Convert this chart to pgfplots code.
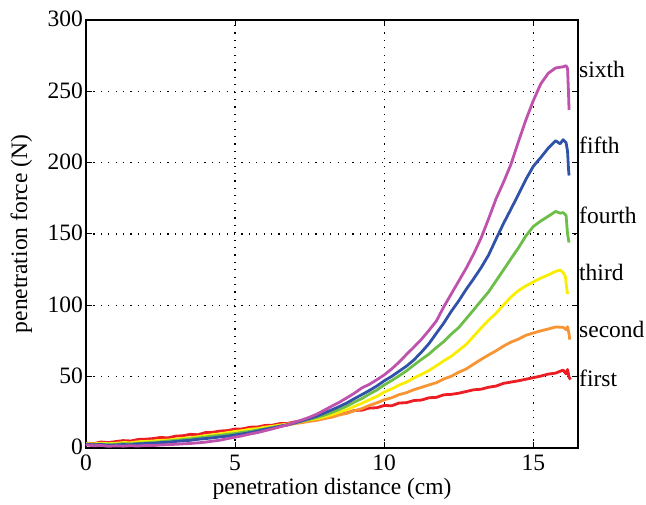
\documentclass[border=0pt]{standalone}
\usepackage{fontspec}
\setmainfont{Liberation Serif}
\usepackage{pgfplots}
\pgfplotsset{compat=1.18}

\definecolor{cfirst}{RGB}{236,30,36}
\definecolor{csecond}{RGB}{247,148,52}
\definecolor{cthird}{RGB}{250,238,0}
\definecolor{cfourth}{RGB}{108,190,72}
\definecolor{cfifth}{RGB}{48,82,168}
\definecolor{csixth}{RGB}{190,82,172}

\begin{document}
\begin{tikzpicture}[font=\fontsize{23.5}{28}\selectfont]
\path[use as bounding box] (-86pt,-56pt) rectangle (560pt,448pt);
\begin{axis}[
    at={(0,0)}, anchor=south west,
    scale only axis,
    width=492pt, height=428pt,
    xmin=0, xmax=16.5,
    ymin=0, ymax=300,
    xtick={0,5,10,15},
    ytick={0,50,...,300},
    tick align=inside,
    tick pos=both,
    major tick length=6pt,
    axis line style={line width=1.2pt},
    every tick/.style={black, line width=1pt},
    grid=major,
    major grid style={black, line width=1.2pt, dash pattern=on 1.2pt off 6.2pt},
    /pgf/number format/assume math mode=true,
    xlabel={penetration distance (cm)},
    ylabel={penetration force (N)},
    xlabel style={inner sep=0pt, yshift=-5pt},
    ylabel style={yshift=9pt},
    xticklabel style={inner sep=2pt, yshift=-5pt},
    yticklabel style={inner sep=3pt, yshift=1pt},
    clip=false,
    every axis plot/.append style={line width=2.8pt, line join=round},
]
% first
\addplot[cfirst] coordinates {
(0,3.5) (0.25,3) (0.5,4.2) (0.75,3.8) (1,4.5) (1.25,5.2) (1.5,4.9) (1.75,6) (2,6.2) (2.25,6.6) (2.5,7.4) (2.75,7.1)
(3,8.3) (3.25,8.6) (3.5,9.6) (3.75,9.3) (4,10.8) (4.25,11) (4.5,11.9) (4.75,12.2) (5,13.3) (5.25,13.4) (5.5,14.6) (5.75,14.7)
(6,15.8) (6.25,16) (6.5,17.1) (6.75,17.2) (7,18.3) (7.25,18.9) (7.5,19.6) (7.75,20.6) (8,21.8) (8.25,22.4) (8.5,24.1) (8.75,24.6)
(9,26.3) (9.25,26.5) (9.5,28) (9.75,28.2) (10,29.8) (10.25,29.6) (10.5,31.5) (10.75,31.8) (11,33.3) (11.25,33.6) (11.5,35.2) (11.75,35.5)
(12,37.3) (12.25,37.6) (12.5,38.4) (12.75,39.6) (13,40.8) (13.25,41.2) (13.5,42.6) (13.75,43.4) (14,45.3) (14.25,46.2) (14.5,47.1) (14.75,48.2)
(15,49.3) (15.25,50.4) (15.5,51.8) (15.75,52.5) (16,54.6) (16.1,52) (16.15,55) (16.2,49.5) (16.25,48)
};
% second
\addplot[csecond] coordinates {
(0,2.8) (0.25,2.4) (0.5,3) (0.75,2.6) (1,3.1) (1.25,3.4) (1.5,3.2) (1.75,4) (2,4.2) (2.25,4.1) (2.5,4.8) (2.75,5)
(3,5.6) (3.25,5.9) (3.5,6.6) (3.75,7) (4,8.1) (4.25,8.4) (4.5,9.4) (4.75,9.7) (5,10.6) (5.25,11.4) (5.5,12) (5.75,12.8)
(6,13.6) (6.25,14.3) (6.5,15.4) (6.75,16) (7,17.1) (7.25,17.8) (7.5,18.7) (7.75,19.4) (8,20.6) (8.25,21.6) (8.5,23.2) (8.75,24.3)
(9,26.1) (9.25,27.6) (9.5,29.8) (9.75,31.6) (10,33.8) (10.25,35.2) (10.5,37.4) (10.75,38.8) (11,40.9) (11.25,42.5) (11.5,44.2) (11.75,45.8)
(12,48.4) (12.25,50.3) (12.5,53.1) (12.75,55.4) (13,58.8) (13.25,62.1) (13.5,65.2) (13.75,68.1) (14,71.4) (14.25,74.2) (14.5,76.3) (14.75,79)
(15,80.6) (15.25,82.1) (15.5,83.4) (15.75,84.8) (16,84.6) (16.1,83) (16.15,85) (16.2,80) (16.22,76)
};
% third
\addplot[cthird] coordinates {
(0,3.2) (0.25,2.8) (0.5,3.4) (0.75,3) (1,3.3) (1.25,3.8) (1.5,3.7) (1.75,4.4) (2,4.6) (2.25,4.9) (2.5,5.3) (2.75,5.6)
(3,6.2) (3.25,6.8) (3.5,7.2) (3.75,7.9) (4,8.6) (4.25,9.4) (4.5,9.9) (4.75,10.8) (5,11.6) (5.25,12.2) (5.5,13.1) (5.75,13.6)
(6,14.6) (6.25,15.2) (6.5,16.1) (6.75,16.7) (7,17.8) (7.25,18.6) (7.5,19.8) (7.75,20.6) (8,21.9) (8.25,23.4) (8.5,25.1) (8.75,26.8)
(9,29.2) (9.25,31.3) (9.5,33.8) (9.75,36.1) (10,39.2) (10.25,41.4) (10.5,44.1) (10.75,46.2) (11,49.1) (11.25,51.6) (11.5,54.3) (11.75,57.6)
(12,61.2) (12.25,64.3) (12.5,68.4) (12.75,72.6) (13,78.3) (13.25,84.1) (13.5,89.6) (13.75,94.4) (14,100.2) (14.25,105.8) (14.5,110.3) (14.75,113.6)
(15,116.4) (15.25,119.1) (15.5,121.3) (15.75,123.8) (15.9,124.7) (16,123) (16.08,120) (16.12,112) (16.15,108)
};
% fourth
\addplot[cfourth] coordinates {
(0,2.6) (0.25,2.2) (0.5,2.7) (0.75,2.4) (1,2.6) (1.25,3) (1.5,2.9) (1.75,3.3) (2,3.6) (2.25,4) (2.5,4.3) (2.75,4.9)
(3,5.3) (3.25,5.9) (3.5,6.4) (3.75,7) (4,7.6) (4.25,8.4) (4.5,8.8) (4.75,9.6) (5,10.1) (5.25,11) (5.5,11.6) (5.75,12.6)
(6,13.4) (6.25,14.4) (6.5,15.3) (6.75,16.4) (7,17.6) (7.25,18.8) (7.5,20.1) (7.75,21.5) (8,23.1) (8.25,25) (8.5,27.1) (8.75,29.4)
(9,32.2) (9.25,34.6) (9.5,37.8) (9.75,40.6) (10,44.2) (10.25,47.3) (10.5,50.6) (10.75,54.1) (11,58.2) (11.25,62.1) (11.5,65.8) (11.75,70.4)
(12,74.6) (12.25,79.8) (12.5,84.4) (12.75,90.6) (13,96.8) (13.25,103.2) (13.5,109.4) (13.75,117.1) (14,124.8) (14.25,132.6) (14.5,140.2) (14.75,148.6)
(15,155.2) (15.25,159.1) (15.5,162.4) (15.75,165.8) (15.9,164.6) (16,165) (16.1,163) (16.15,150) (16.2,144)
};
% fifth
\addplot[cfifth] coordinates {
(0,2.8) (0.25,2.2) (0.5,2.5) (0.75,1.8) (1,2.1) (1.25,2.4) (1.5,2.2) (1.75,2.9) (2,3.1) (2.25,3.2) (2.5,3.8) (2.75,4)
(3,4.6) (3.25,5) (3.5,5.4) (3.75,6.1) (4,6.6) (4.25,7.1) (4.5,7.8) (4.75,8.3) (5,9.1) (5.25,9.9) (5.5,10.8) (5.75,11.8)
(6,13.1) (6.25,14) (6.5,15.2) (6.75,16.2) (7,17.6) (7.25,19.1) (7.5,20.7) (7.75,22.4) (8,24.6) (8.25,26.8) (8.5,29.1) (8.75,31.6)
(9,34.6) (9.25,37.4) (9.5,40.3) (9.75,43.4) (10,47.1) (10.25,50.2) (10.5,53.8) (10.75,57.4) (11,61.8) (11.25,67.2) (11.5,73.1) (11.75,80.4)
(12,87.6) (12.25,95.8) (12.5,103.1) (12.75,111.2) (13,118.6) (13.25,126.4) (13.5,135.2) (13.75,146.4) (14,157.3) (14.25,167.4) (14.5,177.6) (14.75,188.2)
(15,197.4) (15.25,203.6) (15.5,210.1) (15.75,215.4) (15.9,213.2) (16,216.1) (16.1,214) (16.15,208) (16.18,196) (16.2,191)
};
% sixth
\addplot[csixth] coordinates {
(0,2.2) (0.25,1.6) (0.5,1.8) (0.75,1.2) (1,1.5) (1.25,1.3) (1.5,1.6) (1.75,1.4) (2,1.8) (2.25,1.7) (2.5,2.1) (2.75,2.3)
(3,2.6) (3.25,2.9) (3.5,3.2) (3.75,3.6) (4,4.1) (4.25,4.8) (4.5,5.5) (4.75,6.6) (5,7.6) (5.25,8.6) (5.5,9.8) (5.75,10.8)
(6,12.1) (6.25,13.4) (6.5,14.8) (6.75,16.2) (7,18.1) (7.25,19.7) (7.5,21.6) (7.75,23.8) (8,26.6) (8.25,29.4) (8.5,32.1) (8.75,35.2)
(9,38.4) (9.25,42.1) (9.5,44.6) (9.75,47.8) (10,51.2) (10.25,55.4) (10.5,60.2) (10.75,65.6) (11,70.8) (11.25,76.2) (11.5,82.4) (11.75,89)
(12,99) (12.25,108) (12.5,117) (12.75,126) (13,136) (13.25,147.2) (13.5,160.6) (13.75,174.6) (14,186.2) (14.25,198.8) (14.5,214.6) (14.75,229.8)
(15,243.4) (15.25,255.2) (15.5,262.6) (15.75,266.4) (16,267.2) (16.1,268) (16.15,266) (16.18,250) (16.2,237)
};
\node[anchor=west, inner sep=1pt] at (axis cs:16.5,49) {first};
\node[anchor=west, inner sep=1pt] at (axis cs:16.5,83) {second};
\node[anchor=west, inner sep=1pt] at (axis cs:16.5,123) {third};
\node[anchor=west, inner sep=1pt] at (axis cs:16.5,163) {fourth};
\node[anchor=west, inner sep=1pt] at (axis cs:16.5,212) {fifth};
\node[anchor=west, inner sep=1pt] at (axis cs:16.5,265) {sixth};
\end{axis}
\end{tikzpicture}
\end{document}
